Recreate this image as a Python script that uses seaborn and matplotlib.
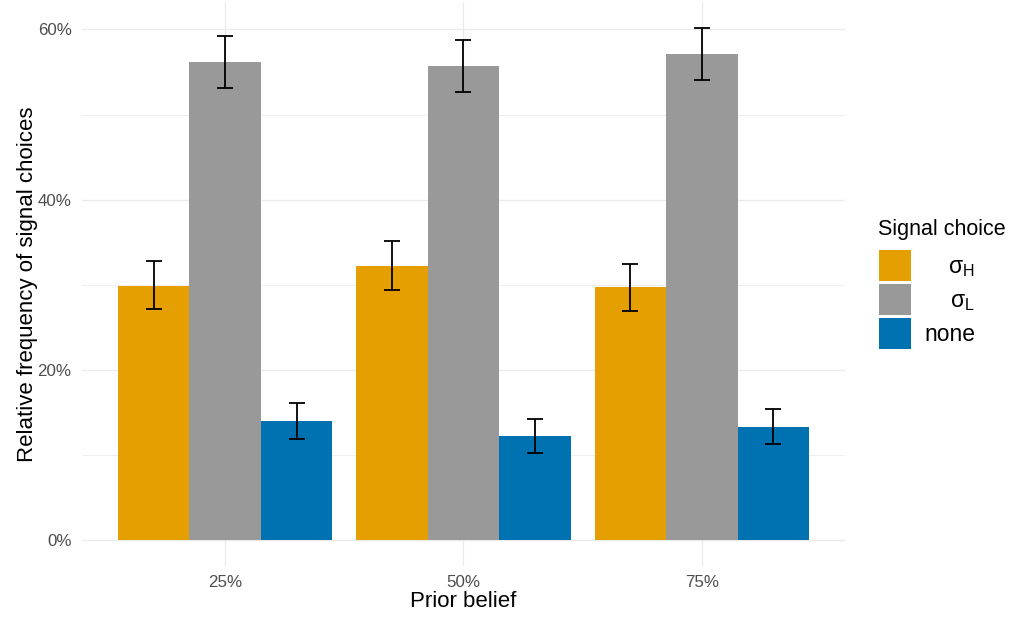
import numpy as np
import pandas as pd
import matplotlib
matplotlib.use("Agg")
import matplotlib.pyplot as plt
import seaborn as sns
from matplotlib.ticker import PercentFormatter, MultipleLocator
from matplotlib.patches import Rectangle

# Shares of signal choices per prior belief, with 95% interval bounds
prior_beliefs = ["25%", "50%", "75%"]
signal_choices = ["sigma_H", "sigma_L", "none"]
signal_labels = [r"$\mathrm{\sigma_H}$", r"$\mathrm{\sigma_L}$", "none"]

share_sigma_h = [0.299, 0.322, 0.297]
share_sigma_l = [0.562, 0.557, 0.571]
share_none = [0.140, 0.123, 0.133]

lower_sigma_h = [0.272, 0.294, 0.269]
upper_sigma_h = [0.328, 0.351, 0.325]
lower_sigma_l = [0.531, 0.527, 0.541]
upper_sigma_l = [0.592, 0.587, 0.602]
lower_none = [0.119, 0.103, 0.113]
upper_none = [0.161, 0.142, 0.154]

palette = ["#E69F00", "#999999", "#0072B2"]

sns.set_theme(style="white")
plt.rcParams["font.family"] = ["Liberation Sans", "DejaVu Sans"]
plt.rcParams["mathtext.fontset"] = "custom"
plt.rcParams["mathtext.rm"] = "Liberation Sans"
plt.rcParams["mathtext.it"] = "Liberation Sans:italic"
plt.rcParams["mathtext.bf"] = "Liberation Sans:bold"

shares = [share_sigma_h, share_sigma_l, share_none]
lowers = [lower_sigma_h, lower_sigma_l, lower_none]
uppers = [upper_sigma_h, upper_sigma_l, upper_none]

rows = []
for choice, vals in zip(signal_choices, shares):
    for prior, v in zip(prior_beliefs, vals):
        rows.append({"prior": prior, "signal": choice, "share": v})
df = pd.DataFrame(rows)

W, H = 1014, 621
fig = plt.figure(figsize=(W / 100, H / 100), dpi=100)
ax = fig.add_axes([82 / W, 1 - 566 / H, (845 - 82) / W, (566 - 2) / H])

sns.barplot(
    data=df, x="prior", y="share", hue="signal",
    order=prior_beliefs, hue_order=signal_choices,
    palette=palette, width=0.9, saturation=1,
    errorbar=None, legend=False, linewidth=0, ax=ax,
)

for container, lo, hi in zip(ax.containers, lowers, uppers):
    xs = [b.get_x() + b.get_width() / 2 for b in container]
    hs = np.array([b.get_height() for b in container])
    ax.errorbar(
        xs, hs, yerr=[hs - np.array(lo), np.array(hi) - hs],
        fmt="none", ecolor="black", elinewidth=1.3,
        capsize=5.8, capthick=1.3, zorder=5,
    )

top = max(max(u) for u in uppers)
pad = 0.05 * top
ax.set_ylim(-pad, top + pad)
ax.set_xlim(-0.6, len(prior_beliefs) - 0.4)

ax.yaxis.set_major_locator(MultipleLocator(0.2))
ax.yaxis.set_minor_locator(MultipleLocator(0.1))
ax.yaxis.set_major_formatter(PercentFormatter(xmax=1, decimals=0))

ax.set_axisbelow(True)
ax.grid(which="major", axis="both", color="#ebebeb", linewidth=1.0)
ax.grid(which="minor", axis="y", color="#ebebeb", linewidth=0.6)
for s in ax.spines.values():
    s.set_visible(False)

ax.tick_params(axis="both", which="both", length=0, labelsize=12.2,
               labelcolor="#4d4d4d")
ax.tick_params(axis="x", pad=6.5)
ax.tick_params(axis="y", pad=7.5)

ax.set_xlabel("Prior belief", fontsize=16, color="black")
ax.set_ylabel("Relative frequency of signal choices", fontsize=16, color="black")
ax.xaxis.set_label_coords(0.5, (566 - 591) / 564)
ax.yaxis.set_label_coords((37.5 - 82) / 763, 0.5)

# Legend drawn as keys and right-aligned labels
fig.text(878 / W, 1 - 235 / H, "Signal choice", fontsize=15.5,
         ha="left", va="baseline", color="black")
for i, (lab, col) in enumerate(zip(signal_labels, palette)):
    y_top = 250 + 34 * i
    fig.patches.append(Rectangle((879 / W, 1 - (y_top + 31) / H), 32 / W, 31 / H,
                                 transform=fig.transFigure, facecolor=col,
                                 edgecolor="none"))
    fig.text(975 / W, 1 - (y_top + 15.5 + 7.5) / H, lab, fontsize=16.5,
             ha="right", va="baseline", color="black")

fig.savefig("out.png", dpi=100)
